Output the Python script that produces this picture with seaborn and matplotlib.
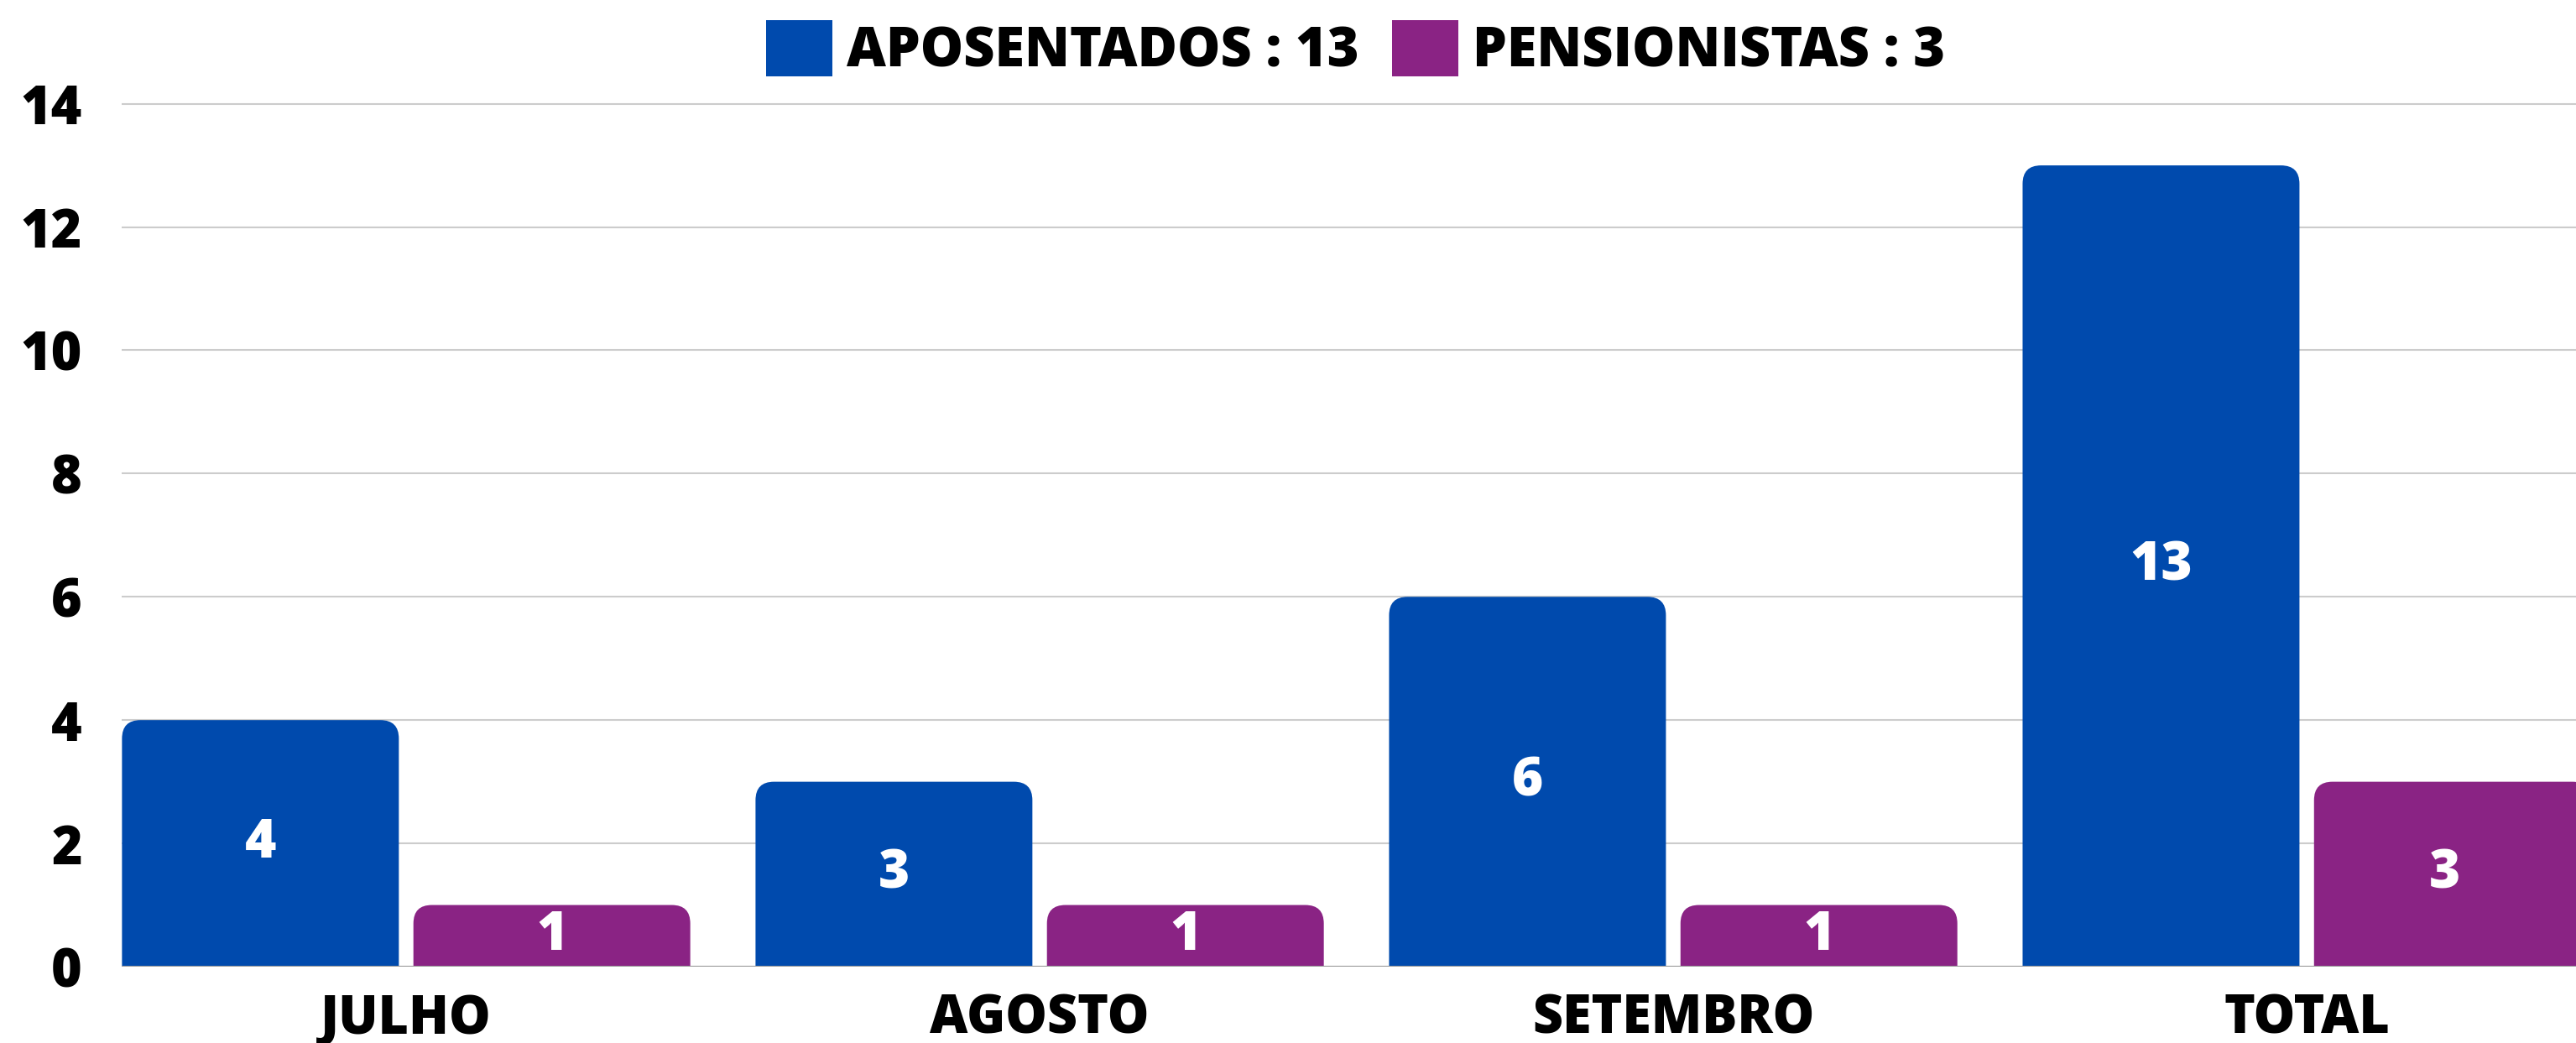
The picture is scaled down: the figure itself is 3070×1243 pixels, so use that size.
import numpy as np
import pandas as pd
import matplotlib
matplotlib.use("Agg")
import matplotlib.pyplot as plt
from matplotlib.path import Path
from matplotlib.patches import PathPatch, Patch
import matplotlib.transforms as mtransforms
import seaborn as sns

sns.set_theme(style="white")
plt.rcParams['font.family'] = ['Open Sans', 'DejaVu Sans']
plt.rcParams['text.color'] = 'black'

# data
meses = ["JULHO", "AGOSTO", "SETEMBRO", "TOTAL"]
aposentados = [4, 3, 6, 13]
pensionistas = [1, 1, 1, 3]
series = ["APOSENTADOS", "PENSIONISTAS"]
cores = ["#004AAD", "#8A2384"]

df = pd.DataFrame({
    "mes": meses * 2,
    "valor": aposentados + pensionistas,
    "serie": [series[0]] * len(meses) + [series[1]] * len(meses),
})

fig = plt.figure(figsize=(30.7, 12.43), dpi=100)
ax = fig.add_axes([145 / 3070, 1 - 1152 / 1243, 1 - 145 / 3070, (1152 - 120) / 1243])

sns.barplot(data=df, x="mes", y="valor", hue="serie", palette=cores,
            saturation=1, width=0.92, gap=0.05, legend=False, ax=ax, zorder=2)

ax.set_xlim(-0.449, 3.425)
ax.set_ylim(0, 14.05)
ax.set_yticks(np.arange(0, 15, 2))
ax.yaxis.grid(True, color="#cccccc", linewidth=1.5, zorder=0)
ax.set_axisbelow(True)
for s in ax.spines.values():
    s.set_visible(False)
ax.axhline(0, color="#9a9a9a", linewidth=1.5, zorder=5)

ax.set_xlabel("")
ax.set_ylabel("")
ax.tick_params(axis="y", length=0, pad=34, labelsize=45)
ax.tick_params(axis="x", length=0, pad=22, labelsize=45)
for lab in ax.get_xticklabels() + ax.get_yticklabels():
    lab.set_fontweight("heavy")
    lab.set_color("black")

# rounded tops
fig.canvas.draw()
p0 = ax.transData.transform((0, 0))
p1 = ax.transData.transform((1, 1))
rpx = 22
rx = rpx / (p1[0] - p0[0])
ry = rpx / (p1[1] - p0[1])
for bar in list(ax.patches):
    x0, y0 = bar.get_x(), bar.get_y()
    w, h = bar.get_width(), bar.get_height()
    x1, y1 = x0 + w, y0 + h
    verts = [(x0, y0), (x0, y1 - ry), (x0, y1), (x0 + rx, y1),
             (x1 - rx, y1), (x1, y1), (x1, y1 - ry), (x1, y0), (x0, y0)]
    codes = [Path.MOVETO, Path.LINETO, Path.CURVE3, Path.CURVE3,
             Path.LINETO, Path.CURVE3, Path.CURVE3, Path.LINETO, Path.CLOSEPOLY]
    pp = PathPatch(Path(verts, codes), facecolor=bar.get_facecolor(),
                   edgecolor="none", zorder=2)
    ax.add_patch(pp)
    bar.set_visible(False)

shift = mtransforms.ScaledTranslation(0, -7 / 100, fig.dpi_scale_trans)
for cont in ax.containers:
    txts = ax.bar_label(cont, label_type="center", color="white", fontsize=46,
                        fontweight="heavy", zorder=6)
    for t in txts:
        t.set_transform(t.get_transform() + shift)

handles = [Patch(facecolor=c, edgecolor="none") for c in cores]
labels = [f"{series[0]} : {aposentados[-1]}", f"{series[1]} : {pensionistas[-1]}"]
leg = fig.legend(handles, labels, loc="center", bbox_to_anchor=(0.5262, 1 - 60 / 1243),
                 ncol=2, frameon=False, prop={"weight": "heavy", "size": 46.5},
                 handlelength=1.22, handleheight=1.22, handletextpad=0.26,
                 columnspacing=0.62, borderpad=0)
for t in leg.get_texts():
    t.set_color("black")

fig.savefig("out.png", dpi=100)
